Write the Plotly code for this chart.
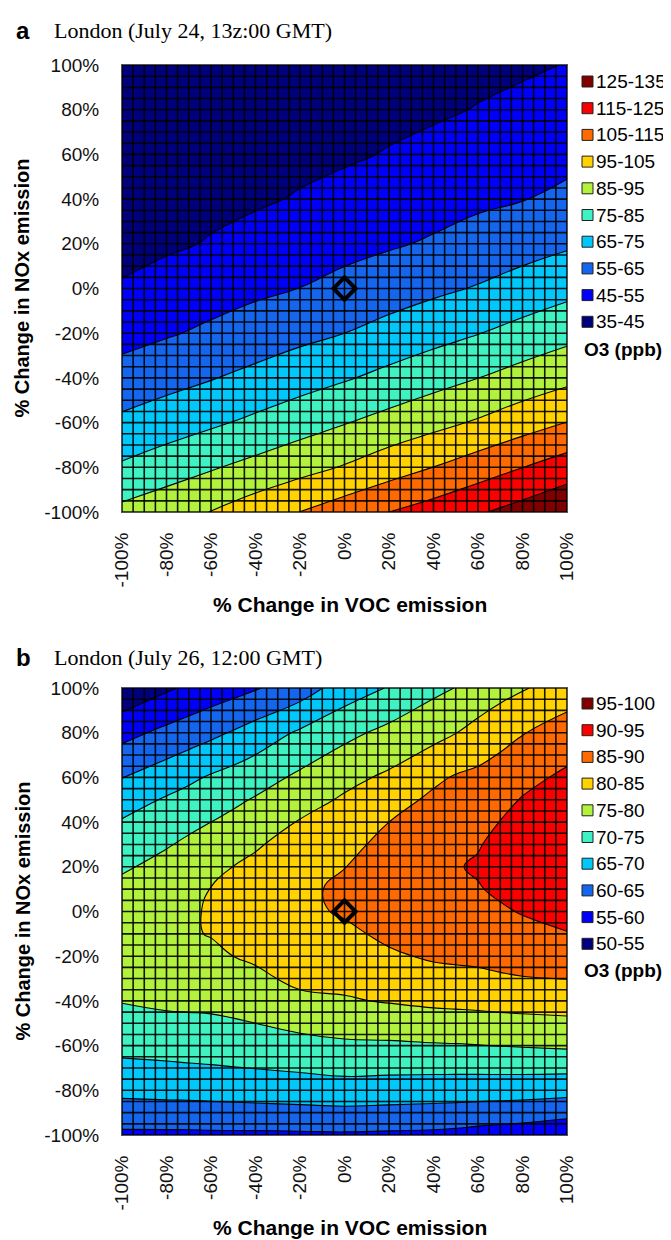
import plotly.graph_objects as go

# page is drawn inside the default 8px body margin, so the figure is 8px smaller
OFF = 8
W, H = 671 - OFF, 1240 - OFF

# ---------------- data ----------------
tick_vals = [-100, -80, -60, -40, -20, 0, 20, 40, 60, 80, 100]
tick_text = ["-100%", "-80%", "-60%", "-40%", "-20%", "0%", "20%", "40%", "60%", "80%", "100%"]

# Panel a: O3 (ppb); rows = % change in NOx, columns = % change in VOC
voc_a = [-100, -80, -60, -40, -20, 0, 20, 40, 60, 80, 100]
nox_a = [-100, -80, -60, -40, -20, 0, 20, 40, 60, 80, 100]
o3_a = [
    [87.5, 91.3, 95.2, 100.2, 105.1, 110.1, 115.0, 119.3, 124.0, 128.7, 133.7],
    [76.3, 80.2, 84.1, 87.9, 91.7, 95.7, 100.5, 105.1, 110.0, 114.9, 119.8],
    [67.0, 70.2, 73.5, 77.0, 80.8, 84.5, 88.4, 92.1, 96.1, 100.7, 105.2],
    [58.6, 61.6, 64.5, 67.6, 70.9, 74.1, 77.7, 81.4, 84.9, 88.8, 92.5],
    [51.8, 54.1, 56.7, 59.6, 62.4, 65.0, 68.3, 71.5, 74.7, 78.3, 81.9],
    [45.6, 48.7, 51.0, 53.1, 55.1, 57.7, 60.4, 63.1, 65.7, 68.9, 72.1],
    [42.9, 43.6, 45.6, 48.2, 50.3, 52.2, 54.0, 56.0, 58.7, 61.2, 63.7],
    [41.3, 42.2, 42.9, 43.8, 45.7, 47.8, 49.7, 51.5, 53.2, 54.7, 57.0],
    [39.6, 40.5, 41.4, 42.4, 42.8, 43.8, 45.5, 47.5, 49.3, 50.9, 52.5],
    [37.7, 38.6, 39.5, 40.4, 41.4, 42.3, 42.8, 43.7, 45.4, 47.2, 48.9],
    [35.8, 36.7, 37.6, 38.5, 39.4, 40.3, 41.3, 42.2, 42.7, 43.7, 45.3],
]
legend_a = ["125-135", "115-125", "105-115", "95-105", "85-95",
            "75-85", "65-75", "55-65", "45-55", "35-45"]
title_a = "London (July 24, 13z:00 GMT)"

# Panel b: O3 (ppb) on a finer, uneven grid
voc_b = [-100, -80, -70, -60, -50, -40, -20, 0, 20, 40, 50, 60, 70, 80, 100]
nox_b = [-100, -80, -60, -40, -30, -20, -10, 0, 10, 20, 30, 40, 50, 60, 80, 100]
o3_b = [
    [59.1, 59.1, 59.1, 59.2, 59.2, 59.2, 59.3, 59.4, 59.2, 59.0, 58.7, 58.2, 57.8, 57.4, 56.2],
    [66.3, 66.6, 66.7, 66.9, 67.1, 67.3, 67.7, 68.1, 67.8, 67.5, 67.4, 67.3, 67.2, 67.1, 66.7],
    [71.4, 71.8, 72.1, 72.3, 72.6, 72.9, 73.5, 74.2, 74.3, 74.6, 74.7, 74.9, 75.1, 75.3, 75.7],
    [75.2, 75.9, 76.0, 76.1, 76.5, 77.1, 78.9, 79.6, 80.3, 81.0, 81.2, 81.4, 81.7, 81.9, 82.2],
    [77.2, 77.5, 77.6, 77.8, 78.3, 79.0, 81.1, 81.2, 82.3, 83.3, 83.7, 84.1, 84.5, 84.8, 85.1],
    [78.2, 78.6, 79.0, 79.1, 80.0, 80.7, 82.6, 82.6, 84.3, 85.6, 85.8, 85.9, 86.3, 86.7, 87.5],
    [78.5, 79.0, 79.6, 80.2, 80.9, 81.6, 83.5, 84.0, 86.0, 87.3, 87.2, 87.4, 87.8, 88.5, 89.8],
    [77.9, 78.8, 79.6, 80.3, 81.2, 82.0, 84.0, 85.5, 87.1, 88.5, 88.7, 88.9, 89.4, 90.3, 91.5],
    [76.4, 78.0, 79.0, 80.1, 80.9, 81.8, 83.9, 86.0, 87.5, 89.1, 89.5, 89.7, 90.8, 91.7, 92.7],
    [74.3, 76.6, 77.8, 78.6, 80.05, 81.0, 83.2, 84.9, 87.3, 89.3, 89.7, 90.5, 91.5, 92.4, 93.3],
    [72.4, 74.6, 75.9, 76.8, 78.1, 79.5, 82.0, 83.5, 86.5, 88.9, 89.4, 89.7, 91.2, 92.4, 93.5],
    [70.4, 72.5, 73.8, 75.0, 76.2, 77.4, 80.3, 82.0, 85.0, 87.9, 88.2, 88.5, 90.1, 91.7, 93.1],
    [67.8, 70.5, 71.6, 72.8, 74.1, 75.4, 78.1, 80.6, 82.9, 86.0, 87.0, 87.3, 88.6, 90.3, 92.3],
    [64.9, 67.6, 69.1, 70.5, 71.7, 73.0, 75.9, 78.7, 80.8, 84.0, 85.4, 86.1, 87.2, 88.5, 91.0],
    [58.4, 61.2, 62.5, 63.9, 65.4, 67.1, 70.7, 73.7, 76.3, 78.5, 79.9, 81.7, 83.3, 84.8, 86.9],
    [51.0, 54.3, 55.8, 57.1, 58.3, 59.6, 62.5, 67.4, 70.3, 73.9, 75.1, 76.6, 78.3, 79.5, 82.8],
]
legend_b = ["95-100", "90-95", "85-90", "80-85", "75-80",
            "70-75", "65-70", "60-65", "55-60", "50-55"]
title_b = "London (July 26, 12:00 GMT)"

base_x = [0]   # base case marker (0% VOC, 0% NOx)
base_y = [0]

# ---------------- style ----------------
colors = ["#00007C", "#0000FA", "#1466EE", "#00C8FA", "#3EF2C2",
          "#B2F23C", "#FFD200", "#FF6A00", "#FA0000", "#800000"]
colorscale = [[k / 9, c] for k, c in enumerate(colors)]

SANS = "Liberation Sans, Arial, sans-serif"
SERIF = "Liberation Serif, Times New Roman, serif"

def px(x):
    return (x - OFF) / W

def py(y):
    return 1 - (y - OFF) / H

X0, X1 = 122, 567
panels = [
    dict(top=65, x=voc_a, y=nox_a, z=o3_a, start=45, end=125, size=10, legend=legend_a,
         title=title_a, letter="a", title_y=30, leg_y=81.5),
    dict(top=688, x=voc_b, y=nox_b, z=o3_b, start=55, end=95, size=5, legend=legend_b,
         title=title_b, letter="b", title_y=657, leg_y=703.5),
]
PH = 447

fig = go.Figure()
annotations = []
shapes = []

grid_steps = list(range(-100, 101, 5))

for i, p in enumerate(panels):
    ax = "" if i == 0 else "2"
    xref, yref = "x" + ax, "y" + ax
    fig.add_trace(go.Contour(
        x=p["x"], y=p["y"], z=p["z"],
        contours=dict(start=p["start"], end=p["end"], size=p["size"], coloring="fill",
                      showlines=True),
        colorscale=colorscale, showscale=False,
        line=dict(color="black", width=1.1, smoothing=1.3),
        xaxis=xref, yaxis=yref, hoverinfo="skip",
    ))
    # cell grid overlay
    gx, gy = [], []
    for g in grid_steps:
        gx += [g, g, None]
        gy += [-100, 100, None]
        gx += [-100, 100, None]
        gy += [g, g, None]
    fig.add_trace(go.Scatter(x=gx, y=gy, mode="lines",
                             line=dict(color="rgba(0,0,0,0.9)", width=1.6),
                             xaxis=xref, yaxis=yref, hoverinfo="skip", showlegend=False))
    fig.add_trace(go.Scatter(x=base_x, y=base_y, mode="markers",
                             marker=dict(symbol="diamond-open", size=17, color="black",
                                         line=dict(color="black", width=4)),
                             xaxis=xref, yaxis=yref, hoverinfo="skip", showlegend=False))

    top, bot = p["top"], p["top"] + PH
    axis_common = dict(range=[-100, 100], tickvals=tick_vals, ticktext=tick_text,
                       showgrid=False, zeroline=False, showline=True, mirror=True,
                       linecolor="#555", linewidth=1, ticks="",
                       tickfont=dict(family=SANS, size=19, color="#111"))
    fig.update_layout(**{
        "xaxis" + ax: dict(axis_common, domain=[px(X0), px(X1)], anchor=yref,
                           tickangle=-90, ticklabelstandoff=12),
        "yaxis" + ax: dict(axis_common, domain=[py(bot), py(top)], anchor=xref,
                           ticklabelstandoff=18),
    })

    # panel letter and title
    annotations.append(dict(x=px(14), y=py(p["title_y"]), xref="paper", yref="paper",
                            text="<b>" + p["letter"] + "</b>", showarrow=False,
                            xanchor="left", yanchor="middle",
                            font=dict(family=SANS, size=24, color="black")))
    annotations.append(dict(x=px(52), y=py(p["title_y"]), xref="paper", yref="paper",
                            text=p["title"], showarrow=False, xanchor="left", yanchor="middle",
                            font=dict(family=SERIF, size=22, color="black")))
    # axis titles
    annotations.append(dict(x=px(350), y=py(bot + 92), xref="paper", yref="paper",
                            text="<b>% Change in VOC emission</b>", showarrow=False,
                            xanchor="center", yanchor="middle",
                            font=dict(family=SANS, size=21, color="black")))
    annotations.append(dict(x=px(22), y=py(top + PH / 2), xref="paper", yref="paper",
                            text="<b>% Change in NOx emission</b>", showarrow=False,
                            textangle=-90, xanchor="center", yanchor="middle",
                            font=dict(family=SANS, size=20, color="black")))
    # legend
    step = 26.7
    for k, lab in enumerate(p["legend"]):
        yc = p["leg_y"] + k * step
        shapes.append(dict(type="rect", xref="paper", yref="paper",
                           x0=px(582), x1=px(593), y0=py(yc + 5.5), y1=py(yc - 5.5),
                           fillcolor=colors[9 - k], line=dict(color="#222", width=1)))
        annotations.append(dict(x=px(594), y=py(yc), xref="paper", yref="paper",
                                text=lab, showarrow=False, xanchor="left", yanchor="middle",
                                font=dict(family=SANS, size=19, color="black")))
    annotations.append(dict(x=px(582), y=py(p["leg_y"] + 10 * step + 0.5), xref="paper",
                            yref="paper", text="<b>O3 (ppb)</b>", showarrow=False,
                            xanchor="left", yanchor="middle",
                            font=dict(family=SANS, size=19, color="black")))

fig.update_layout(
    width=W, height=H,
    margin=dict(l=0, r=0, t=0, b=0, autoexpand=False),
    paper_bgcolor="white", plot_bgcolor="white",
    showlegend=False,
    annotations=annotations, shapes=shapes,
)

fig.write_html("out.html")
